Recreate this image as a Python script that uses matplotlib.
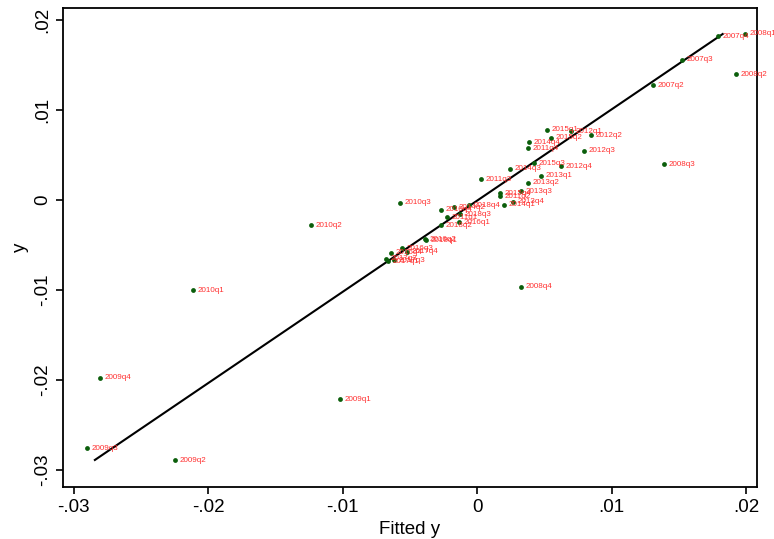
import matplotlib
matplotlib.use("Agg")
import matplotlib.pyplot as plt
import numpy as np

# quarterly observations: fitted value vs actual value
quarters = ["2007q2", "2007q3", "2007q4", "2008q1", "2008q2", "2008q3", "2008q4",
            "2009q1", "2009q2", "2009q3", "2009q4", "2010q1", "2010q2", "2010q3",
            "2010q4", "2011q1", "2011q2", "2011q3", "2011q4", "2012q1", "2012q2",
            "2012q3", "2012q4", "2013q1", "2013q2", "2013q3", "2013q4", "2014q1",
            "2014q2", "2014q3", "2014q4", "2015q1", "2015q2", "2015q3", "2015q4",
            "2016q1", "2016q2", "2016q3", "2016q4", "2017q1", "2017q2", "2017q3",
            "2017q4", "2018q1", "2018q2", "2018q3", "2018q4"]

fitted = [0.01308, 0.01525, 0.01787, 0.01989, 0.01926, 0.01390, 0.00329,
          -0.01020, -0.02246, -0.02902, -0.02802, -0.02113, -0.01237, -0.00573,
          -0.00272, -0.00222, 0.00167, 0.00030, 0.00374, 0.00696, 0.00844,
          0.00791, 0.00626, 0.00472, 0.00376, 0.00322, 0.00266, 0.00202,
          -0.00172, 0.00245, 0.00387, 0.00522, 0.00552, 0.00424, 0.00172,
          -0.00132, -0.00391, -0.00556, -0.00641, -0.00661, -0.00679, -0.00621,
          -0.00524, -0.00382, -0.00272, -0.00127, -0.00058]

actual = [0.01270, 0.01556, 0.01814, 0.01844, 0.01392, 0.00392, -0.00967,
          -0.02214, -0.02892, -0.02759, -0.01978, -0.01003, -0.00286, -0.00033,
          -0.00111, -0.00197, 0.00041, 0.00230, 0.00574, 0.00759, 0.00714,
          0.00544, 0.00370, 0.00267, 0.00189, 0.00092, -0.00022, -0.00056,
          -0.00086, 0.00344, 0.00637, 0.00778, 0.00686, 0.00403, 0.00074,
          -0.00252, -0.00441, -0.00541, -0.00589, -0.00681, -0.00656, -0.00670,
          -0.00578, -0.00448, -0.00286, -0.00161, -0.00063]

# fit line end points
fit_x = [-0.02843, 0.01825]
fit_y = [-0.02890, 0.01840]

xticks = [-0.03, -0.02, -0.01, 0, 0.01, 0.02]
xtick_labels = ["-.03", "-.02", "-.01", "0", ".01", ".02"]
yticks = [-0.03, -0.02, -0.01, 0, 0.01, 0.02]
ytick_labels = ["-.03", "-.02", "-.01", "0", ".01", ".02"]

plt.rcParams['font.family'] = ['Liberation Sans', 'DejaVu Sans']

fig = plt.figure(figsize=(7.74, 5.39), dpi=100)
ax = fig.add_axes([0.0814, 0.0965, 0.8966, 0.8895])

ax.plot(fit_x, fit_y, color="black", lw=1.5, zorder=2)
ax.scatter(fitted, actual, s=12, color="#0b5e0b", zorder=3, linewidths=0)
for q, xv, yv in zip(quarters, fitted, actual):
    ax.annotate(q, (xv, yv), xytext=(3.3, 0), textcoords="offset points",
                va="center", ha="left", fontsize=5.8, color="#ff3030",
                zorder=4, annotation_clip=False)

ax.set_xlim(-0.0308, 0.0208)
ax.set_ylim(-0.0319, 0.02134)
ax.set_xticks(xticks)
ax.set_xticklabels(xtick_labels, fontsize=13.5)
ax.set_yticks(yticks)
ax.set_yticklabels(ytick_labels, fontsize=13.5, rotation=90, va="center")
ax.tick_params(direction="out", length=5, width=1.2, colors="black")
for sp in ax.spines.values():
    sp.set_linewidth(1.3)
    sp.set_color("black")

ax.set_xlabel("Fitted y", fontsize=13.5)
ax.set_ylabel("y", fontsize=13.5)

fig.savefig("out.png", dpi=100)
